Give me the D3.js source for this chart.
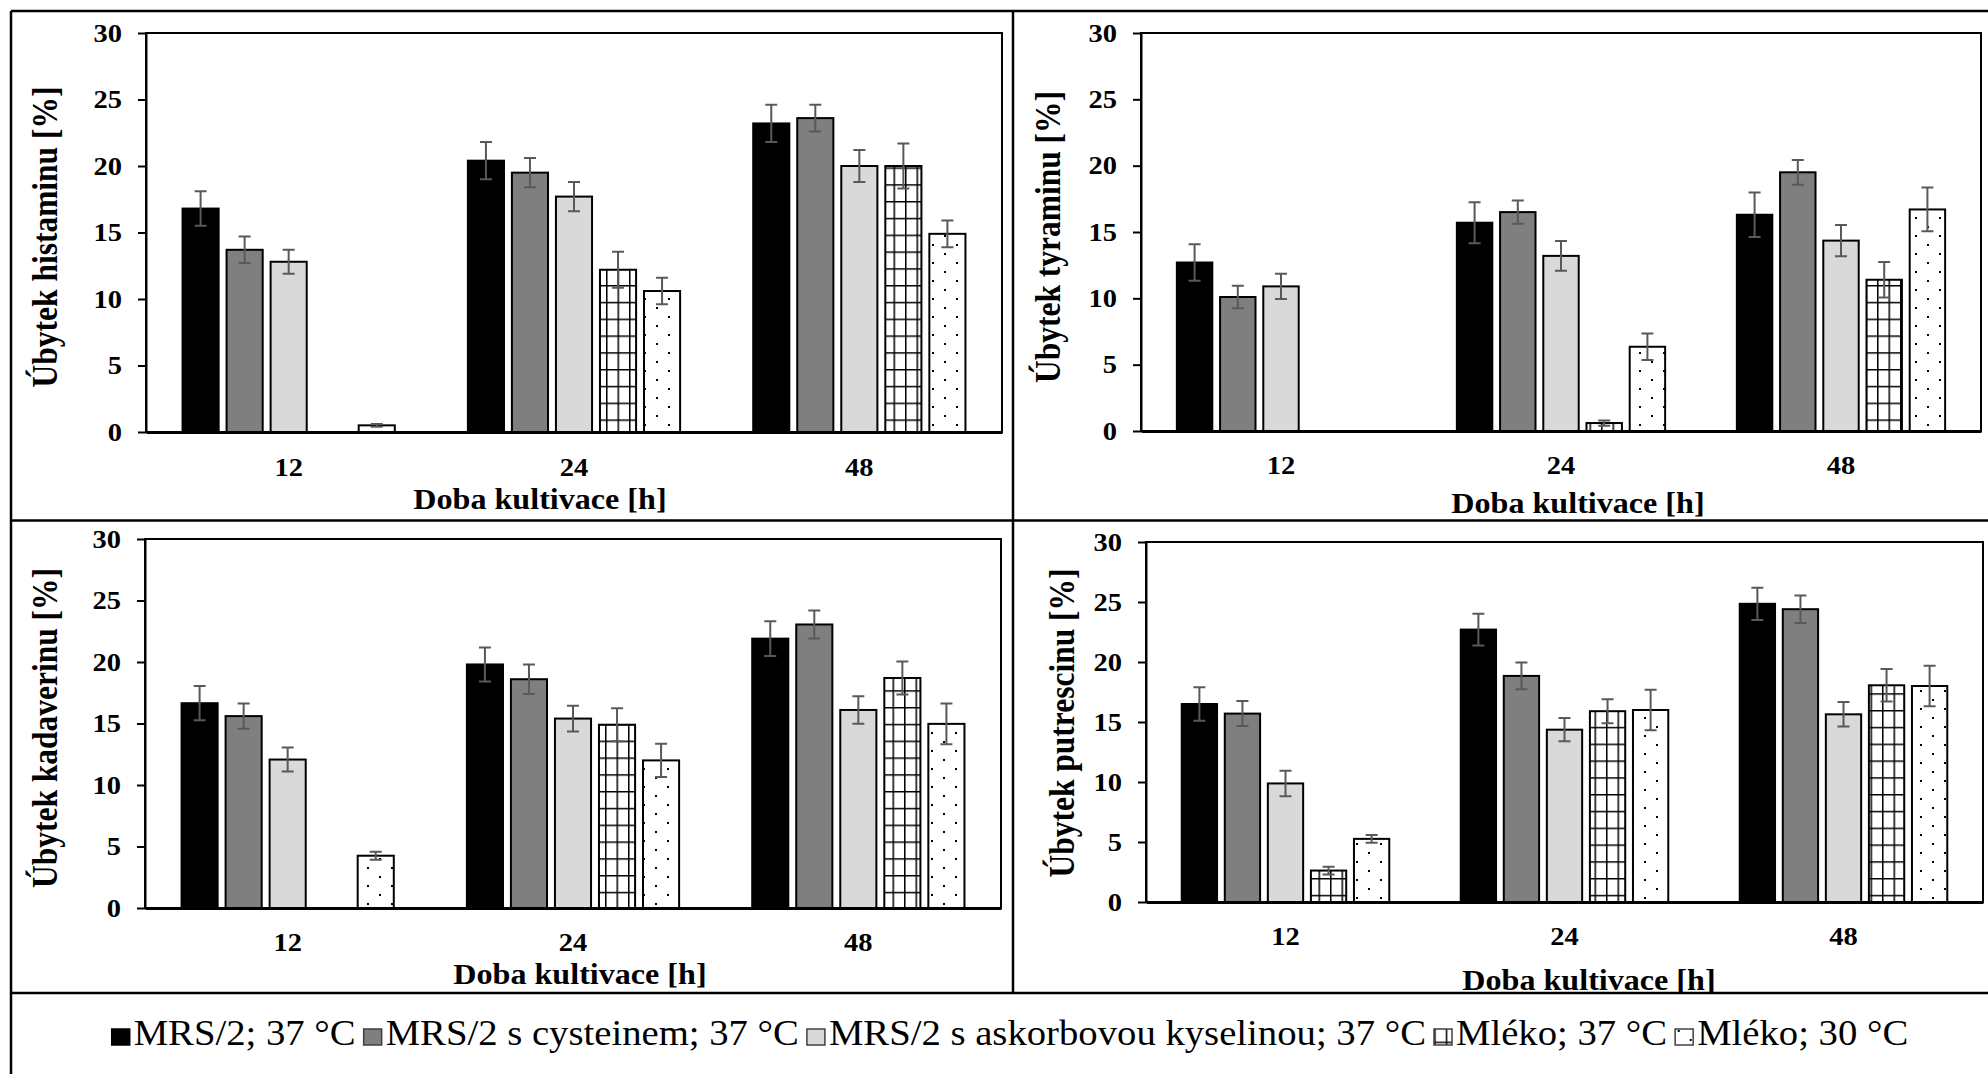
<!DOCTYPE html>
<html>
<head>
<meta charset="utf-8">
<script src="https://cdn.jsdelivr.net/npm/d3@7"></script>
<style>
  body { margin: 0; background: #fff; }
  svg { display: block; }
  text { font-family: "Liberation Serif", "Times New Roman", serif; fill: #000; }
</style>
</head>
<body>
<script>
// categories and series
var groups = ["12", "24", "48"];
var series = ["MRS/2; 37 °C", "MRS/2 s cysteinem; 37 °C", "MRS/2 s askorbovou kyselinou; 37 °C", "Mléko; 37 °C", "Mléko; 30 °C"];
var yTicks = [0, 5, 10, 15, 20, 25, 30];
var xTitle = "Doba kultivace [h]";

// values: one row per series, one column per group (12, 24, 48 h)
var histaminMean = [
  [16.8, 20.4, 23.2],
  [13.7, 19.5, 23.6],
  [12.8, 17.7, 20.0],
  [0, 12.2, 20.0],
  [0.5, 10.6, 14.9]
];
var histaminErr = [
  [1.3, 1.4, 1.4],
  [1.0, 1.1, 1.0],
  [0.9, 1.1, 1.2],
  [0, 1.35, 1.7],
  [0.1, 1.0, 1.0]
];

var tyraminMean = [
  [12.7, 15.7, 16.3],
  [10.1, 16.5, 19.5],
  [10.9, 13.2, 14.35],
  [0, 0.6, 11.4],
  [0, 6.35, 16.7]
];
var tyraminErr = [
  [1.37, 1.55, 1.67],
  [0.84, 0.87, 0.93],
  [0.95, 1.13, 1.18],
  [0, 0.2, 1.33],
  [0, 1.0, 1.65]
];

var kadaverinMean = [
  [16.65, 19.8, 21.9],
  [15.6, 18.6, 23.05],
  [12.07, 15.4, 16.1],
  [0, 14.9, 18.7],
  [4.25, 12.0, 14.97]
];
var kadaverinErr = [
  [1.39, 1.38, 1.42],
  [1.03, 1.2, 1.14],
  [0.97, 1.05, 1.12],
  [0, 1.35, 1.35],
  [0.32, 1.35, 1.66]
];

var putrescinMean = [
  [16.5, 22.7, 24.85],
  [15.7, 18.84, 24.4],
  [9.88, 14.36, 15.64],
  [2.62, 15.9, 18.06],
  [5.26, 16.0, 18.0]
];
var putrescinErr = [
  [1.39, 1.32, 1.34],
  [1.04, 1.11, 1.14],
  [1.06, 0.97, 1.02],
  [0.32, 1.0, 1.35],
  [0.32, 1.68, 1.68]
];

// panel layout
var panels = [
  {title: "Úbytek histaminu [%]", mean: histaminMean, err: histaminErr,
   left: 146, right: 1002, top: 33, bottom: 432, tickY: 467, titleX: 540, titleY: 498, yTitleX: 44, yTitleY: 237},
  {title: "Úbytek tyraminu [%]", mean: tyraminMean, err: tyraminErr,
   left: 1141, right: 1981, top: 33, bottom: 431, tickY: 465, titleX: 1578, titleY: 502, yTitleX: 1047, yTitleY: 237},
  {title: "Úbytek kadaverinu [%]", mean: kadaverinMean, err: kadaverinErr,
   left: 145, right: 1001, top: 539, bottom: 908, tickY: 942, titleX: 580, titleY: 973, yTitleX: 44, yTitleY: 728},
  {title: "Úbytek putrescinu [%]", mean: putrescinMean, err: putrescinErr,
   left: 1146, right: 1983, top: 542, bottom: 902, tickY: 936, titleX: 1589, titleY: 979, yTitleX: 1061, yTitleY: 723}
];

var SX = 1.14; // tick labels are drawn a little wider than tall
var fills = ["#000", "#7f7f7f", "#d9d9d9", "url(#grid)", "url(#dots)"];

function stretchBy(k) {
  return function(sel) {
    sel.each(function() {
      var w = this.getComputedTextLength();
      d3.select(this).attr("textLength", w * k).attr("lengthAdjust", "spacingAndGlyphs");
    });
  };
}

var svg = d3.select("body").append("svg")
    .attr("width", 1988)
    .attr("height", 1074);

// hatch patterns
var defs = svg.append("defs");
var grid = defs.append("pattern").attr("id", "grid")
    .attr("patternUnits", "userSpaceOnUse").attr("width", 11.5).attr("height", 16.8);
grid.append("rect").attr("width", 11.5).attr("height", 16.8).attr("fill", "#fff");
grid.append("path").attr("d", "M0,0.75H11.5M0.75,0V16.8")
    .attr("stroke", "#000").attr("stroke-width", 1.5);

var dots = defs.append("pattern").attr("id", "dots")
    .attr("patternUnits", "userSpaceOnUse").attr("width", 24).attr("height", 18);
dots.append("rect").attr("width", 24).attr("height", 18).attr("fill", "#fff");
dots.append("rect").attr("x", 6).attr("y", 4).attr("width", 2).attr("height", 2).attr("fill", "#000");
dots.append("rect").attr("x", 18).attr("y", 13).attr("width", 2).attr("height", 2).attr("fill", "#000");

// outer frame and dividers
var frame = svg.append("g").attr("stroke", "#000").attr("stroke-width", 2.5);
frame.append("line").attr("x1", 11).attr("y1", 11).attr("x2", 1988).attr("y2", 11);
frame.append("line").attr("x1", 11).attr("y1", 11).attr("x2", 11).attr("y2", 1074);
frame.append("line").attr("x1", 1013).attr("y1", 11).attr("x2", 1013).attr("y2", 993);
frame.append("line").attr("x1", 11).attr("y1", 520.5).attr("x2", 1988).attr("y2", 520.5);
frame.append("line").attr("x1", 11).attr("y1", 993).attr("x2", 1988).attr("y2", 993);

panels.forEach(function(p) {
  var w = p.right - p.left,
      h = p.bottom - p.top;

  var g = svg.append("g").attr("transform", "translate(" + p.left + "," + p.top + ")");

  var x0 = d3.scaleBand().domain(groups).range([0, w]);
  var x1 = d3.scaleBand().domain(d3.range(series.length))
      .range([0, x0.bandwidth()]).paddingInner(0.18).paddingOuter(0.83);
  var y = d3.scaleLinear().domain([0, 30]).range([h, 0]);

  // plot area border
  g.append("rect")
      .attr("width", w).attr("height", h)
      .attr("fill", "none").attr("stroke", "#000").attr("stroke-width", 2);

  var rows = [];
  series.forEach(function(s, si) {
    groups.forEach(function(gr, gi) {
      if (p.mean[si][gi] > 0) rows.push({s: si, g: gr, v: p.mean[si][gi], e: p.err[si][gi]});
    });
  });

  g.selectAll(".bar")
      .data(rows)
      .enter().append("rect")
      .attr("class", "bar")
      .attr("x", function(d) { return x0(d.g) + x1(d.s); })
      .attr("y", function(d) { return y(d.v); })
      .attr("width", x1.bandwidth())
      .attr("height", function(d) { return h - y(d.v); })
      .attr("fill", function(d) { return fills[d.s]; })
      .attr("stroke", "#000")
      .attr("stroke-width", 2);

  g.selectAll(".err")
      .data(rows)
      .enter().append("path")
      .attr("class", "err")
      .attr("d", function(d) {
        var cx = x0(d.g) + x1(d.s) + x1.bandwidth() / 2,
            lo = y(d.v - d.e), hi = y(d.v + d.e);
        return "M" + cx + "," + lo + "V" + hi +
               "M" + (cx - 6) + "," + hi + "H" + (cx + 6) +
               "M" + (cx - 6) + "," + lo + "H" + (cx + 6);
      })
      .attr("fill", "none")
      .attr("stroke", "#595959")
      .attr("stroke-width", 2);

  // y axis
  var ya = g.append("g")
      .call(d3.axisLeft(y).tickValues(yTicks).tickSize(8).tickSizeOuter(0).tickPadding(16));
  ya.attr("font-family", null).attr("font-size", 25).attr("font-weight", "bold");
  ya.selectAll("line, path").attr("stroke", "#000").attr("stroke-width", 2);
  ya.selectAll("text").attr("fill", "#000").call(stretchBy(SX));

  // x axis
  var xa = g.append("g")
      .attr("transform", "translate(0," + h + ")")
      .call(d3.axisBottom(x0).tickSize(0).tickSizeOuter(0).tickPadding(p.tickY - p.bottom - 0.37 * 25));
  xa.attr("font-family", null).attr("font-size", 25).attr("font-weight", "bold");
  xa.select(".domain").attr("stroke", "#000").attr("stroke-width", 3);
  xa.selectAll("text").attr("fill", "#000").call(stretchBy(SX));

  // axis titles
  svg.append("text")
      .attr("x", p.titleX)
      .attr("y", p.titleY)
      .attr("dy", "0.35em")
      .attr("text-anchor", "middle")
      .attr("font-size", 30)
      .attr("font-weight", "bold")
      .text(xTitle)
      .call(stretchBy(1.07));

  svg.append("text")
      .attr("transform", "translate(" + p.yTitleX + "," + p.yTitleY + ") rotate(-90) scale(1," + SX + ")")
      .attr("dy", "0.35em")
      .attr("text-anchor", "middle")
      .attr("font-size", 31.5)
      .attr("font-weight", "bold")
      .text(p.title);
});

// legend, laid out left to right and centred
var LSX = 1.075;
var legend = svg.append("g");
var lx = 0, base = 1045;
series.forEach(function(s, i) {
  legend.append("rect")
      .attr("x", lx).attr("y", base - 16)
      .attr("width", 18).attr("height", 16)
      .attr("fill", fills[i])
      .attr("stroke", i === 0 ? "#000" : "#404040")
      .attr("stroke-width", 1.5);
  var t = legend.append("text")
      .attr("x", lx + 22).attr("y", base)
      .attr("font-size", 36)
      .text(s);
  var tw = t.node().getComputedTextLength() * LSX;
  t.call(stretchBy(LSX));
  lx += 22 + tw + 8;
});
legend.attr("transform", "translate(" + (1010 - (lx - 8) / 2) + ",0)");
</script>
</body>
</html>
